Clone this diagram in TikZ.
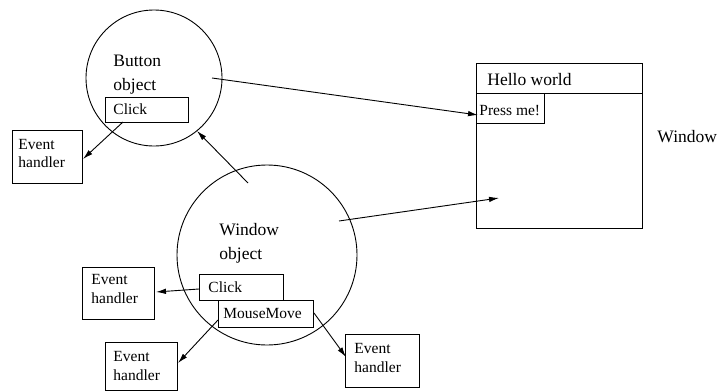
\documentclass[tikz,border=0pt]{standalone}
\usepackage{fontspec}
\setmainfont{Liberation Serif}
\usetikzlibrary{arrows.meta}
\begin{document}
\begin{tikzpicture}[x=1pt,y=-1pt,
  line width=0.9pt,
  box/.style={draw, rectangle, inner sep=0pt, outer sep=0pt, anchor=north west},
  obj/.style={draw, circle, inner sep=0pt, outer sep=0pt},
  big/.style={font=\fontsize{17.5}{21}\selectfont, inner sep=0pt, anchor=base west},
  small/.style={font=\fontsize{15.5}{18}\selectfont, inner sep=0pt, anchor=base west},
  arr/.style={-{Latex[length=10pt,width=5.5pt]}}
]
\useasboundingbox (0,0) rectangle (724,391);

% objects
\node[obj, minimum size=136pt] (bobj) at (154,78) {};
\node[obj, minimum size=180pt] (wobj) at (267,255) {};
\node[big] (btxt1) at (113,66) {Button};
\node[big] (btxt2) at (113,90) {object};
\node[big] (wtxt1) at (219,235) {Window};
\node[big] (wtxt2) at (219,259) {object};

% event slots
\node[box, minimum width=83pt, minimum height=25pt] (bclick) at (105,97) {};
\node[small] (bclicktxt) at (113,114) {Click};
\node[box, minimum width=84pt, minimum height=26pt] (wclick) at (199,274) {};
\node[small] (wclicktxt) at (208,292) {Click};
\node[box, minimum width=95pt, minimum height=27pt, fill=white] (wmove) at (218,300) {};
\node[small] (wmovetxt) at (223,318) {MouseMove};

% event handlers
\node[box, minimum width=70pt, minimum height=53pt] (eh1) at (12,130) {};
\node[small] (eh1a) at (18,149) {Event};
\node[small] (eh1b) at (18,167) {handler};
\node[box, minimum width=72pt, minimum height=52pt] (eh2) at (82,267) {};
\node[small] (eh2a) at (91,284) {Event};
\node[small] (eh2b) at (91,303) {handler};
\node[box, minimum width=72pt, minimum height=48pt] (eh3) at (105,342) {};
\node[small] (eh3a) at (113,361) {Event};
\node[small] (eh3b) at (113,380) {handler};
\node[box, minimum width=74pt, minimum height=53pt] (eh4) at (345,334) {};
\node[small] (eh4a) at (354,353) {Event};
\node[small] (eh4b) at (354,372) {handler};

% screen window
\node[box, minimum width=166pt, minimum height=165pt] (frame) at (476,63) {};
\node[box, minimum width=166pt, minimum height=30pt] (title) at (476,63) {};
\node[big] (titletxt) at (487,85) {Hello world};
\node[box, minimum width=68pt, minimum height=30pt] (press) at (476,93) {};
\node[small] (presstxt) at (479,115) {Press me!};
\node[big] (wlabel) at (657,142.5) {Window};

% connector end points
\coordinate (c1s) at (123,122);
\coordinate (c1e) at (83,159);
\coordinate (c2s) at (248,183);
\coordinate (c2e) at (197,131);
\coordinate (c3s) at (212,78);
\coordinate (c3e) at (478,115);
\coordinate (c4s) at (339,221);
\coordinate (c4e) at (499,198);
\coordinate (c5s) at (199,289);
\coordinate (c5e) at (156,292);
\coordinate (c6s) at (218,320);
\coordinate (c6e) at (178,363);
\coordinate (c7s) at (314,313);
\coordinate (c7e) at (346,357);

\draw[arr] (c1s) -- (c1e);
\draw[arr] (c2s) -- (c2e);
\draw[arr] (c3s) -- (c3e);
\draw[arr] (c4s) -- (c4e);
\draw[arr] (c5s) -- (c5e);
\draw[arr] (c6s) -- (c6e);
\draw[arr] (c7s) -- (c7e);
\end{tikzpicture}
\end{document}
